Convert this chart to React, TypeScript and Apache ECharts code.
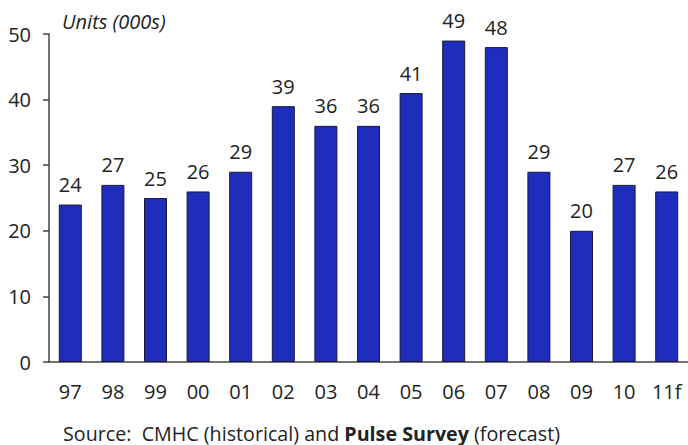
import React, { useEffect, useRef } from "react";
import * as echarts from "echarts";

const categories = ["97", "98", "99", "00", "01", "02", "03", "04", "05", "06", "07", "08", "09", "10", "11f"];
const values = [24, 27, 25, 26, 29, 39, 36, 36, 41, 49, 48, 29, 20, 27, 26];
const yTicks = { min: 0, max: 50, interval: 10 };
const unitLabel = "Units (000s)";

const FONT = "'Open Sans', 'Noto Sans', sans-serif";

export default function App() {
  const ref = useRef<HTMLDivElement>(null);
  useEffect(() => {
    if (!ref.current) return;
    const chart = echarts.init(ref.current, null, { renderer: "svg" });
    chart.setOption({
      animation: false,
      backgroundColor: "#ffffff",
      textStyle: { fontFamily: FONT },
      grid: { left: 49, top: 34, width: 643, height: 328, containLabel: false },
      xAxis: {
        type: "category",
        data: categories,
        axisLine: { show: true, lineStyle: { color: "#444444", width: 1.5 } },
        axisTick: { show: false },
        axisLabel: { color: "#222222", fontSize: 20, fontFamily: FONT, margin: 19, interval: 0 },
      },
      yAxis: {
        type: "value",
        min: yTicks.min,
        max: yTicks.max,
        interval: yTicks.interval,
        splitLine: { show: false },
        axisLine: { show: true, lineStyle: { color: "#444444", width: 1.5 } },
        axisTick: { show: true, length: 6, lineStyle: { color: "#444444", width: 1.5 } },
        axisLabel: { color: "#222222", fontSize: 20, fontFamily: FONT, margin: 18 },
      },
      series: [
        {
          type: "bar",
          data: values,
          barWidth: "54%",
          itemStyle: { color: "#1f2dbd", borderColor: "#1a1a3a", borderWidth: 1 },
          label: {
            show: true,
            position: "top",
            distance: 10,
            color: "#222222",
            fontSize: 20,
            fontFamily: FONT,
          },
        },
      ],
      graphic: [
        {
          type: "text",
          style: {
            x: 62,
            y: 21,
            verticalAlign: "middle",
            text: unitLabel,
            fontSize: 20,
            fontStyle: "italic",
            fontFamily: FONT,
            fill: "#222222",
          },
        },
        {
          type: "text",
          style: {
            x: 63,
            y: 433,
            verticalAlign: "middle",
            text: "{n|Source:  CMHC (historical) and }{b|Pulse Survey}{n| (forecast)}",
            rich: {
              n: { fontSize: 19.7, fontFamily: FONT, fill: "#222222", color: "#222222" },
              b: { fontSize: 19.7, fontFamily: FONT, fontWeight: "bold", fill: "#222222", color: "#222222" },
            },
          },
        },
      ],
    });
    return () => chart.dispose();
  }, []);
  return (
    <div
      ref={ref}
      style={{ position: "absolute", left: 0, top: 0, width: 688, height: 445, overflow: "hidden" }}
    />
  );
}
